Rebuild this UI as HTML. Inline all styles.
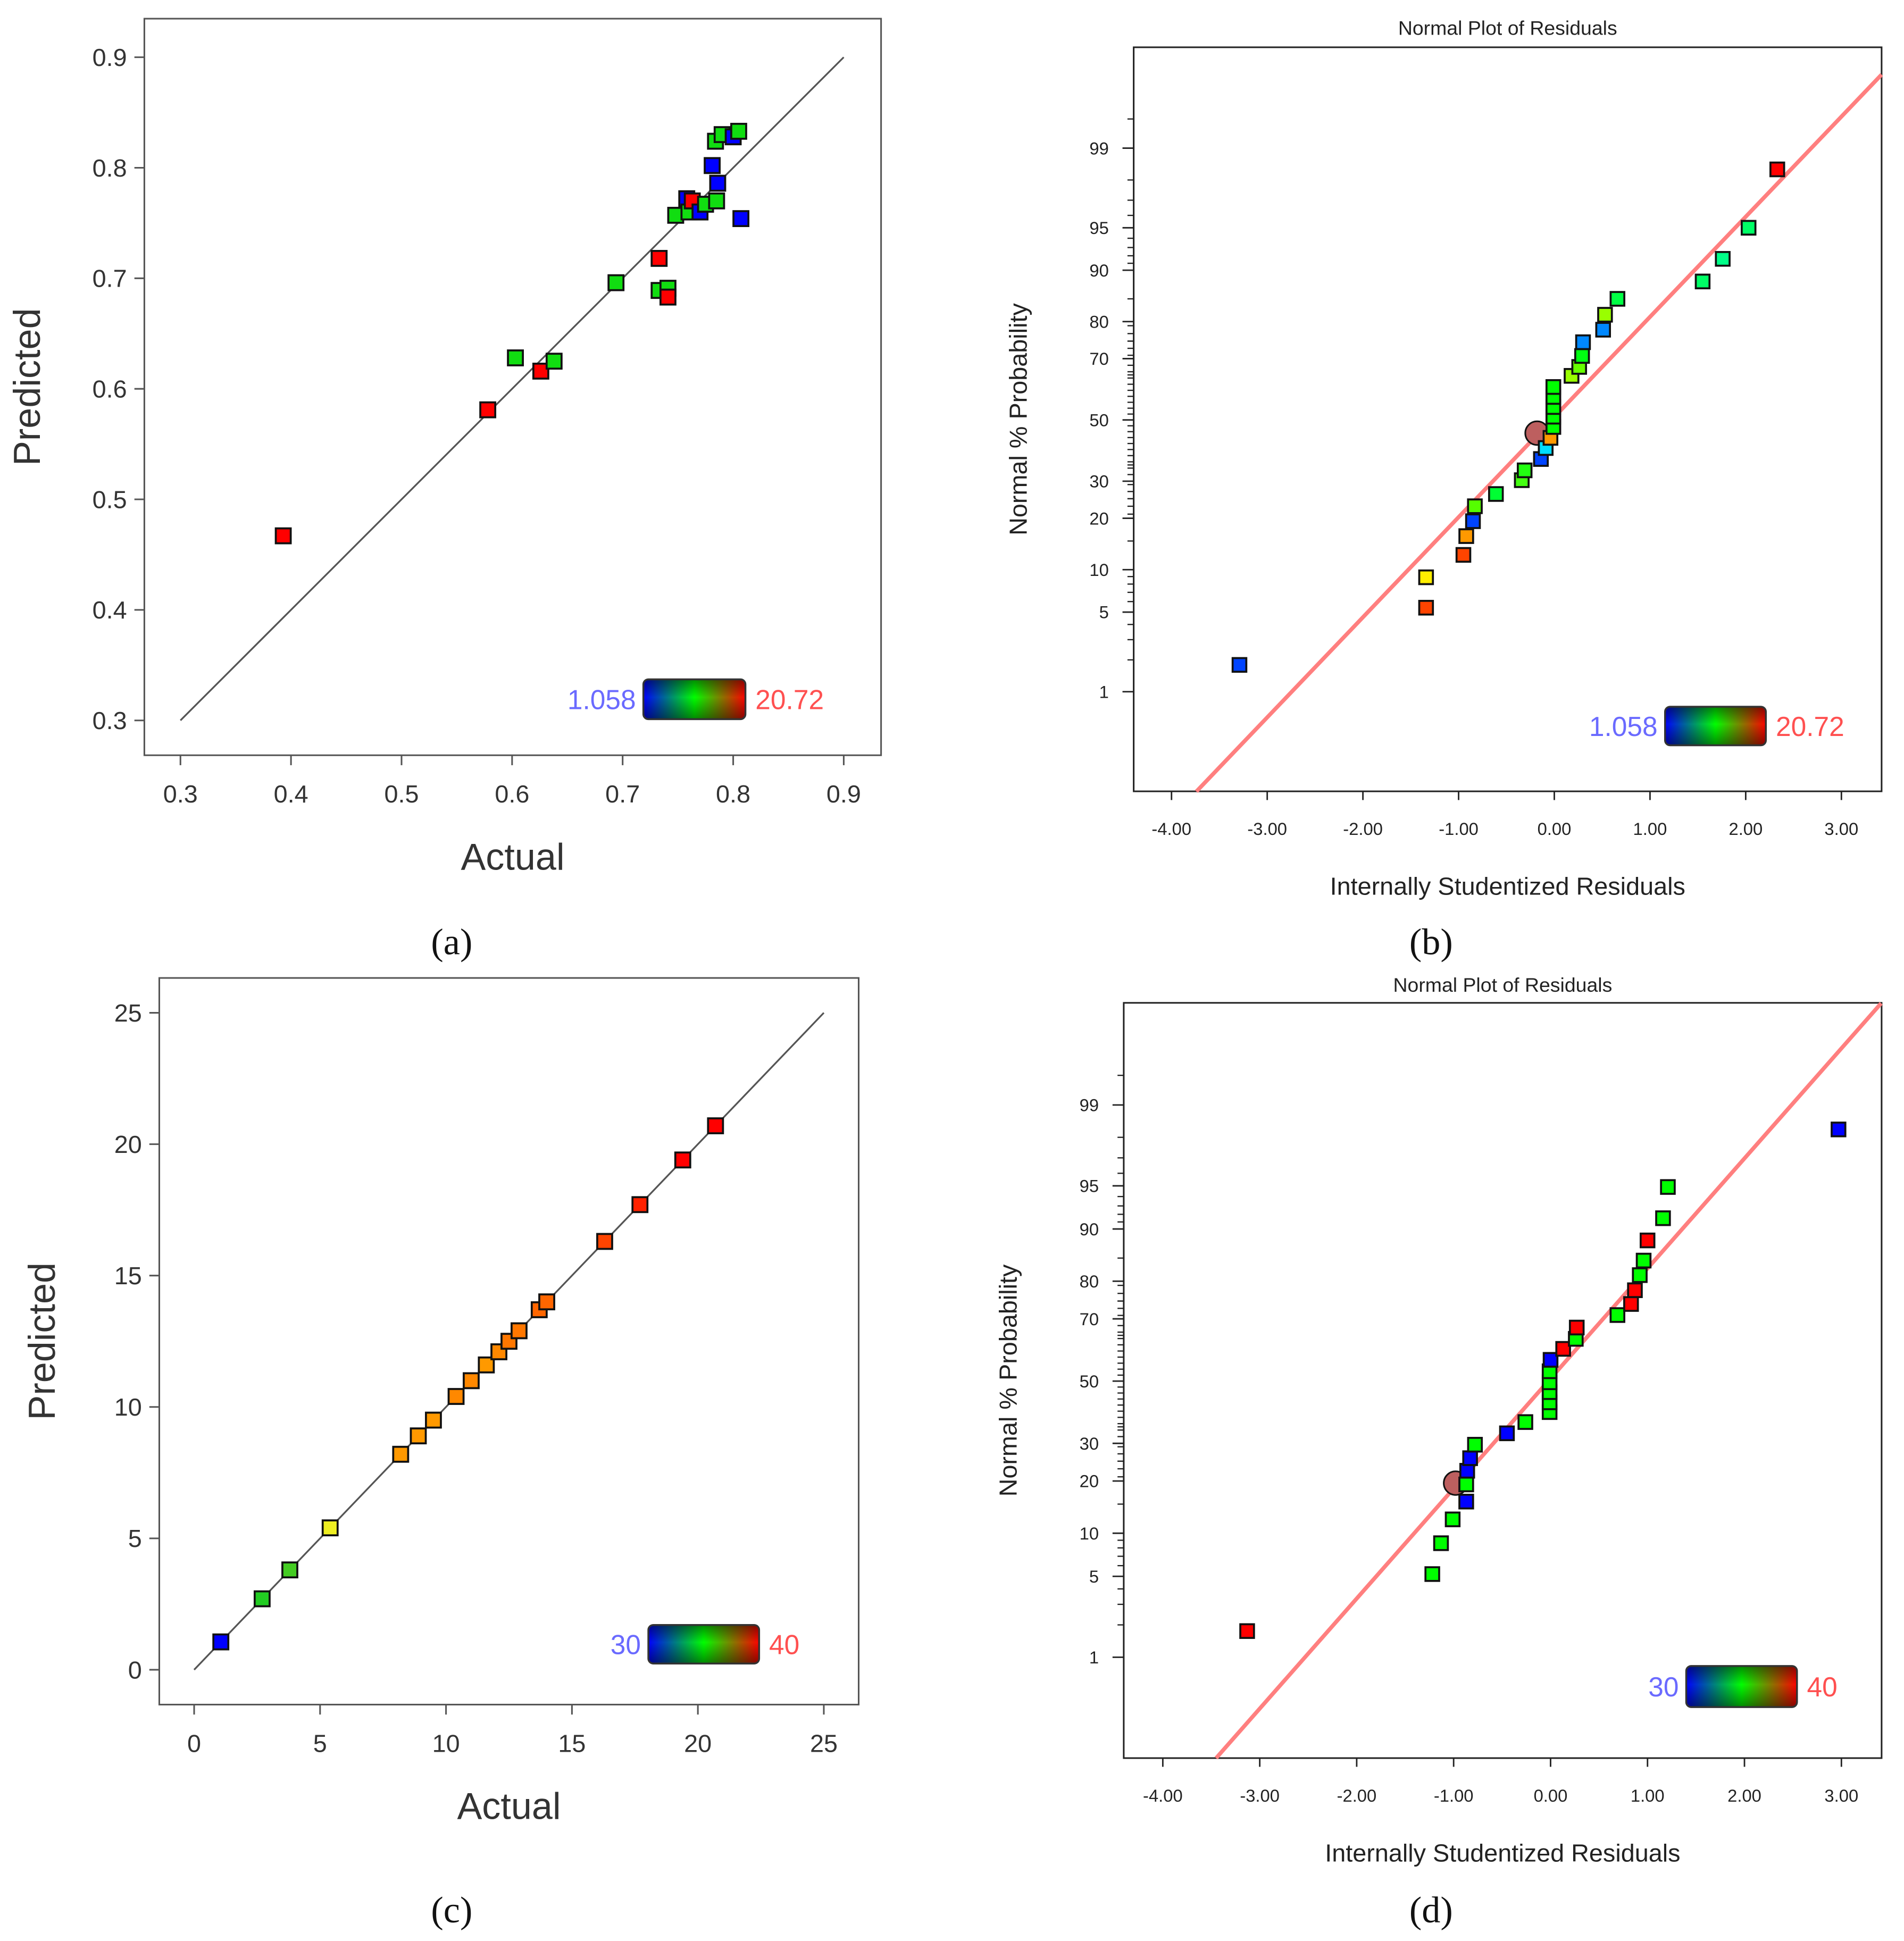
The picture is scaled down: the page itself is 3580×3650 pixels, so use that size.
<!DOCTYPE html>
<html><head><meta charset="utf-8"><style>
html,body{margin:0;padding:0;background:#fff}
svg{display:block}
text{font-family:"Liberation Sans",sans-serif}
text.cap{font-family:"Liberation Serif",serif}
</style></head><body>
<svg id="s" width="3580" height="3650" viewBox="0 0 1530 1560" preserveAspectRatio="none" xmlns="http://www.w3.org/2000/svg">
<defs>
<linearGradient id="grad" x1="0" x2="1" y1="0" y2="0">
<stop offset="0" stop-color="#0000ff"/><stop offset="0.5" stop-color="#00ff00"/><stop offset="1" stop-color="#ff0000"/>
</linearGradient>
<linearGradient id="shade" x1="0" x2="0" y1="0" y2="1">
<stop offset="0" stop-color="#000" stop-opacity="0.45"/><stop offset="0.45" stop-color="#000" stop-opacity="0"/><stop offset="1" stop-color="#000" stop-opacity="0.45"/>
</linearGradient>
</defs>
</svg>
<script>
// Panel (a) data: actual, predicted, color
const aActual=[0.393,0.578,0.603,0.626,0.638,0.694,0.733,0.733,0.741,0.741,0.748,0.758,0.760,0.763,0.770,0.775,0.781,0.784,0.785,0.786,0.790,0.800,0.805,0.807];
const aPred=[0.467,0.581,0.628,0.616,0.625,0.696,0.718,0.689,0.691,0.683,0.757,0.772,0.760,0.770,0.760,0.767,0.802,0.824,0.770,0.786,0.830,0.828,0.833,0.754];
const aColors=['#f00','#f00','#1d1','#f00','#1d1','#1d1','#f00','#1d1','#1d1','#f00','#1d1','#00f','#1d1','#f00','#00f','#1d1','#00f','#1d1','#1d1','#00f','#1d1','#00f','#1d1','#00f'];
const aTicks=[0.3,0.4,0.5,0.6,0.7,0.8,0.9];
// Panel (c) data
const cVals=[1.06,2.7,3.8,5.4,8.2,8.9,9.5,10.4,11.0,11.6,12.1,12.5,12.9,13.7,14.0,16.3,17.7,19.4,20.7];
const cColors=['#00f','#2c2','#4c2','#ee2','#f90','#f90','#f90','#f80','#f80','#f90','#f80','#f70','#f70','#f60','#f60','#f40','#f20','#f00','#f00'];
const cTicks=[0,5,10,15,20,25];
// Panel (b) data
const bRes=[-3.29,-1.34,-1.34,-0.95,-0.92,-0.85,-0.83,-0.61,-0.34,-0.31,-0.14,-0.09,-0.04,-0.01,-0.01,-0.01,-0.01,-0.01,0.18,0.26,0.29,0.30,0.51,0.53,0.66,1.55,1.76,2.03,2.33];
const bPct=[1.8,5.4,8.9,12.4,16.0,19.3,23.0,26.3,30.3,33.3,36.9,40.5,43.9,47.6,51.1,54.4,57.8,61.1,64.7,67.5,70.8,74.7,78.0,81.6,85.0,88.2,91.6,95.0,98.4];
const bColors=['#04f','#f40','#fe0','#f40','#f90','#04f','#5f0','#0f3','#4f1','#2f1','#04f','#0df','#f90','#0f0','#0f0','#0f0','#0f0','#0f0','#9f0','#6f0','#0f1','#08f','#08f','#9f0','#0f4','#0f6','#0f8','#0f6','#f00'];
const bCircle=[-0.18,45.5];
// Panel (d) data
const dRes=[-3.13,-1.22,-1.13,-1.01,-0.87,-0.87,-0.86,-0.83,-0.78,-0.45,-0.26,-0.01,-0.01,-0.01,-0.01,-0.01,0.00,0.13,0.26,0.27,0.69,0.83,0.87,0.92,0.96,1.00,1.16,1.21,2.97];
const dPct=[1.76,5.2,8.6,12.2,15.5,19.2,22.5,25.8,29.6,33.0,36.5,39.7,42.9,46.3,49.6,53.3,57.1,60.7,63.9,67.4,71.1,74.2,77.8,81.4,84.5,88.2,91.5,94.9,98.3];
const dColors=['#f00','#0f0','#0f0','#0f0','#00f','#0f0','#00f','#00f','#0f0','#00f','#0f0','#0f0','#0f0','#0f0','#0f0','#0f0','#00f','#f00','#0f0','#f00','#0f0','#f00','#f00','#0f0','#0f0','#f00','#0f0','#0f0','#00f'];
const dCircle=[-0.98,19.5];
const probTicks=[1,5,10,20,30,50,70,80,90,95,99];
const resTicks=[-4,-3,-2,-1,0,1,2,3];

const S=document.getElementById('s');
const NS='http://www.w3.org/2000/svg';
function el(tag,attrs,parent,txt){const e=document.createElementNS(NS,tag);for(const k in attrs)e.setAttribute(k,attrs[k]);if(txt!==undefined)e.textContent=txt;(parent||S).appendChild(e);return e;}
function erf(x){const s=x<0?-1:1;x=Math.abs(x);const t=1/(1+0.3275911*x);const y=1-(((((1.061405429*t-1.453152027)*t)+1.421413741)*t-0.284496736)*t+0.254829592)*t*Math.exp(-x*x);return s*y;}
function probit(p){let lo=-6,hi=6;for(let i=0;i<60;i++){const m=(lo+hi)/2;const c=0.5*(1+erf(m/Math.SQRT2));if(c<p)lo=m;else hi=m;}return (lo+hi)/2;}

function legend(g,x,y,w,h,lo,hi,fs){
  const lg=el('g',{},g);
  
  
  el('text',{x:x-6,y:y+h/2+fs*0.36,'font-size':fs,fill:'#6a6aff','text-anchor':'end'},lg,lo);
  el('rect',{x:x,y:y,width:w,height:h,rx:4,fill:'url(#grad)'},lg);
  el('rect',{x:x,y:y,width:w,height:h,rx:4,fill:'url(#shade)',stroke:'#333','stroke-width':1.5},lg);
  el('text',{x:x+w+8,y:y+h/2+fs*0.36,'font-size':fs,fill:'#ff5050'},lg,hi);
}
function square(g,x,y,c,sz,name){
  const r=el('rect',{x:x-sz/2,y:y-sz/2,width:sz,height:sz,fill:c,stroke:'#111','stroke-width':1.6},g);
  
  
}

function predPanel(name,box,dom,ticks,fmt,xs,ys,cols,fs,tfs,leg){
  const g=el('g',{},S);
  
  
  const X=v=>box.x0+(v-dom[0])/(dom[1]-dom[0])*(box.x1-box.x0);
  const Y=v=>box.y0-(v-dom[0])/(dom[1]-dom[0])*(box.y0-box.y1);
  el('rect',{x:box.l,y:box.t,width:box.r-box.l,height:box.b-box.t,fill:'none',stroke:'#555','stroke-width':1.3},g);
  ticks.forEach(t=>{
    el('line',{x1:box.l-8,x2:box.l,y1:Y(t),y2:Y(t),stroke:'#555','stroke-width':1.3},g);
    el('text',{x:box.l-14,y:Y(t)+fs*0.35,'font-size':fs,fill:'#333','text-anchor':'end'},g,fmt(t));
    el('line',{x1:X(t),x2:X(t),y1:box.b,y2:box.b+8,stroke:'#555','stroke-width':1.3},g);
    el('text',{x:X(t),y:box.b+fs+18,'font-size':fs,fill:'#333','text-anchor':'middle'},g,fmt(t));
  });
  const ln=el('line',{x1:X(dom[0]),y1:Y(dom[0]),x2:X(dom[1]),y2:Y(dom[1]),stroke:'#555','stroke-width':1.4},g);
  
  
  xs.forEach((v,i)=>square(g,X(v),Y(ys[i]),cols[i],12,'data-point'));
  const xt=el('text',{x:(box.l+box.r)/2,y:box.b+92,'font-size':tfs,fill:'#333','text-anchor':'middle'},g,'Actual');
  
  
  const cx=box.l-84,cy=(box.t+box.b)/2;
  const yt=el('text',{x:cx,y:cy,'font-size':tfs,fill:'#333','text-anchor':'middle',transform:`rotate(-90 ${cx} ${cy})`},g,'Predicted');
  
  
  legend(g,leg[0],leg[1],leg[2],leg[3],leg[4],leg[5],22);
}
predPanel('panel-a',{l:116,r:708,t:15,b:607,x0:145,x1:678,y0:579,y1:46},[0.3,0.9],aTicks,t=>String(+t.toFixed(1)),aActual,aPred,aColors,20,30,[517,546,82,32,'1.058','20.72']);
predPanel('panel-c',{l:128,r:690,t:786,b:1370,x0:156,x1:662,y0:1342,y1:814},[0,25],cTicks,t=>String(t),cVals,cVals,cColors,20,30,[521,1306,89,31,'30','40']);

function normPanel(name,box,xr,ppx,zc,zs,res,pct,cols,circ,line,titleY,leg){
  const g=el('g',{},S);
  
  
  const X=v=>xr+v*ppx;
  const Y=p=>zc-probit(p/100)*zs;
  el('rect',{x:box.l,y:box.t,width:box.r-box.l,height:box.b-box.t,fill:'none',stroke:'#222','stroke-width':1.3},g);
  const tt=el('text',{x:(box.l+box.r)/2,y:titleY,'font-size':16,fill:'#222','text-anchor':'middle'},g,'Normal Plot of Residuals');
  
  
  const minor=[2,3,4,6,7,8,9,15,25,98,97,96,91,92,93,94,85,75,65,35,99.5];
  for(let p=32;p<=68;p+=2)minor.push(p);
  for(let p=21;p<=29;p+=2){minor.push(p);minor.push(100-p);}
  minor.forEach(p=>el('line',{x1:box.l-5,x2:box.l,y1:Y(p),y2:Y(p),stroke:'#222','stroke-width':1},g));
  probTicks.forEach(p=>{
    el('line',{x1:box.l-9,x2:box.l,y1:Y(p),y2:Y(p),stroke:'#222','stroke-width':1.2},g);
    el('text',{x:box.l-20,y:Y(p)+5,'font-size':14,fill:'#222','text-anchor':'end'},g,String(p));
  });
  resTicks.forEach(t=>{
    el('line',{x1:X(t),x2:X(t),y1:box.b,y2:box.b+7,stroke:'#222','stroke-width':1.2},g);
    el('text',{x:X(t),y:box.b+35,'font-size':14,fill:'#222','text-anchor':'middle'},g,t.toFixed(2));
  });
  const x1=line[0],x2=line[1];
  const Yz=z=>zc-z*zs;
  const rl=el('line',{x1:X(x1),y1:Yz(line[2]+line[3]*x1),x2:X(x2),y2:Yz(line[2]+line[3]*x2),stroke:'#ff7f7f','stroke-width':3.2},g);
  
  
  const c=el('circle',{cx:X(circ[0]),cy:Y(circ[1]),r:9.5,fill:'#bd5f5f',stroke:'#111','stroke-width':1.3},g);
  
  
  res.forEach((v,i)=>square(g,X(v),Y(pct[i]),cols[i],11,'residual-point'));
  const xt=el('text',{x:(box.l+box.r)/2,y:box.b+83,'font-size':20,fill:'#222','text-anchor':'middle'},g,'Internally Studentized Residuals');
  
  
  const cx=box.l-86,cy=(box.t+box.b)/2;
  const yt=el('text',{x:cx,y:cy,'font-size':20,fill:'#222','text-anchor':'middle',transform:`rotate(-90 ${cx} ${cy})`},g,'Normal % Probability');
  
  
  legend(g,leg[0],leg[1],leg[2],leg[3],leg[4],leg[5],22);
}
normPanel('panel-b',{l:911,r:1512,t:38,b:636},1249,76.9,337.5,93.9,bRes,bPct,bColors,bCircle,[-3.74,3.42,0.025,0.857],28,[1338,568,81,31,'1.058','20.72']);
normPanel('panel-d',{l:903,r:1512,t:806,b:1413},1246,77.9,1110,95.4,dRes,dPct,dColors,dCircle,[-3.45,3.41,0.022,0.927],797,[1355,1339,89,33,'30','40']);

[['(a)',363,757],['(b)',1150,757],['(c)',363,1535],['(d)',1150,1535]].forEach(c=>{
  const t=el('text',{x:c[1],y:c[2]+10,'font-size':30,fill:'#111','text-anchor':'middle','class':'cap'},S,c[0]);
  
  
});
</script>
</body></html>
